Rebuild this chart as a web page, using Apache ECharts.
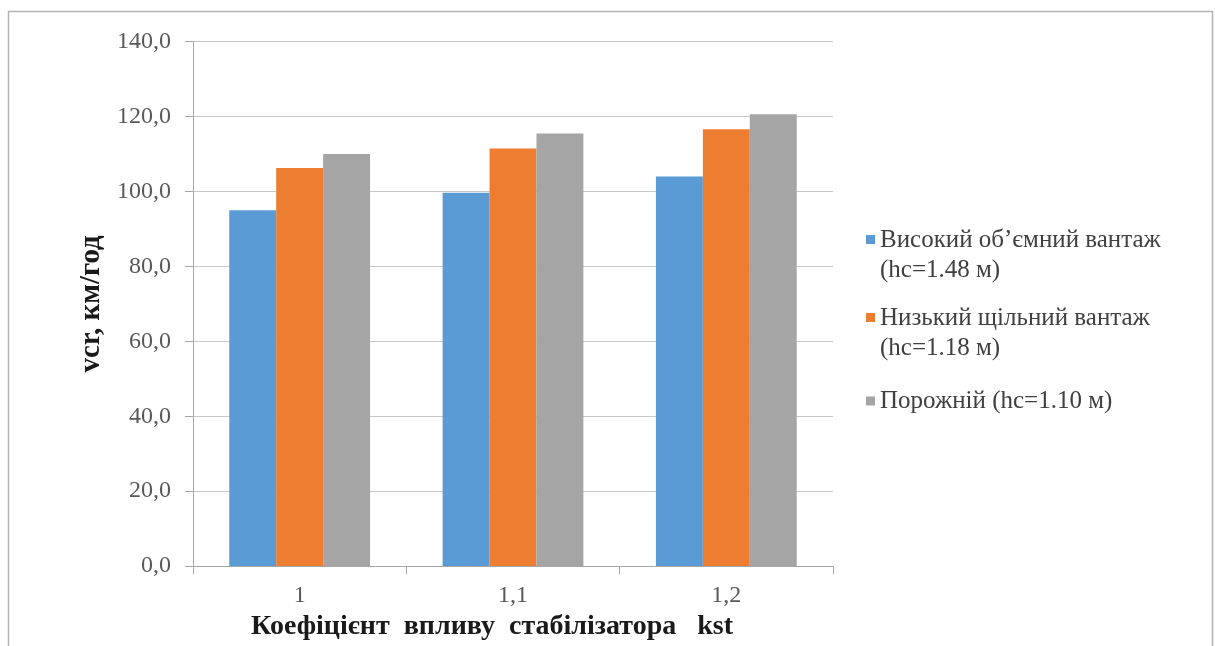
<!DOCTYPE html>
<html>
<head>
<meta charset="utf-8">
<script src="https://cdn.jsdelivr.net/npm/echarts@6/dist/echarts.min.js"></script>
<style>
  html, body { margin: 0; padding: 0; background: #ffffff; }
  #chart { width: 1215px; height: 646px; }
</style>
</head>
<body>
<div id="chart"></div>
<script>
// Stabiliser coefficient values on the category axis
const categories = ['1', '1,1', '1,2'];

// Critical speed, km/h, for each load case
const highVolumeLoad = [95.0, 99.7, 104.0];
const lowDenseLoad = [106.3, 111.5, 116.6];
const emptyWagon = [110.0, 115.5, 120.6];

const seriesNames = [
  'Високий об\u2019ємний вантаж\n(hc=1.48 м)',
  'Низький щільний вантаж\n(hc=1.18 м)',
  'Порожній (hc=1.10 м)'
];

const yTicks = { min: 0, max: 140, interval: 20 };

const serif = '"Liberation Serif", "Times New Roman", serif';

const chart = echarts.init(document.getElementById('chart'), null, { renderer: 'canvas' });

// Legend swatch sits level with the first text line; the flat segment only widens the icon box
const iconTwoLine = 'path://M0,0h9v9h-9z M0,40h9';
const iconOneLine = 'path://M0,0h9 M0,15.5h9v9h-9z M0,40h9';

chart.setOption({
  animation: false,
  backgroundColor: '#ffffff',
  color: ['#5b9bd5', '#ed7d31', '#a5a5a5'],
  graphic: [{
    type: 'rect',
    shape: { x: 8.5, y: 11.5, width: 1204, height: 700 },
    style: { fill: 'none', stroke: '#b3b3b3', lineWidth: 1.5 },
    silent: true
  }],
  grid: { left: 193, right: 382, top: 41.7, bottom: 79.3 },
  legend: {
    orient: 'vertical',
    left: 861,
    top: 220,
    itemWidth: 9,
    itemHeight: 40,
    itemGap: 18,
    selectedMode: false,
    textStyle: { fontFamily: serif, fontSize: 25, color: '#404040', lineHeight: 30 },
    data: [
      { name: seriesNames[0], icon: iconTwoLine },
      { name: seriesNames[1], icon: iconTwoLine },
      { name: seriesNames[2], icon: iconOneLine }
    ]
  },
  xAxis: {
    type: 'category',
    data: categories,
    name: 'Коефіцієнт  впливу  стабілізатора   kst',
    nameLocation: 'middle',
    nameGap: 41,
    nameTextStyle: { fontFamily: serif, fontSize: 28, fontWeight: 'bold', color: '#1a1a1a', padding: [0, 42, 0, 0] },
    axisLine: { lineStyle: { color: '#a6a6a6', width: 1 } },
    axisTick: { show: true, length: 8, alignWithLabel: false, lineStyle: { color: '#a6a6a6' } },
    axisLabel: { fontFamily: serif, fontSize: 24, color: '#595959', margin: 18 }
  },
  yAxis: {
    type: 'value',
    min: yTicks.min,
    max: yTicks.max,
    interval: yTicks.interval,
    name: 'vcr, км/год',
    nameLocation: 'middle',
    nameGap: 84,
    nameTextStyle: { fontFamily: serif, fontSize: 29, fontWeight: 'bold', color: '#1a1a1a' },
    axisLine: { show: true, lineStyle: { color: '#a6a6a6', width: 1 } },
    axisTick: { show: true, length: 8, lineStyle: { color: '#a6a6a6' } },
    axisLabel: {
      fontFamily: serif, fontSize: 24, color: '#595959', margin: 22,
      formatter: v => v.toFixed(1).replace('.', ',')
    },
    splitLine: { lineStyle: { color: '#c8c8c8', width: 1 } }
  },
  series: [
    { name: seriesNames[0], type: 'bar', data: highVolumeLoad, barGap: '0%', barCategoryGap: '34%' },
    { name: seriesNames[1], type: 'bar', data: lowDenseLoad, barGap: '0%', barCategoryGap: '34%' },
    { name: seriesNames[2], type: 'bar', data: emptyWagon, barGap: '0%', barCategoryGap: '34%' }
  ]
});
</script>
</body>
</html>
